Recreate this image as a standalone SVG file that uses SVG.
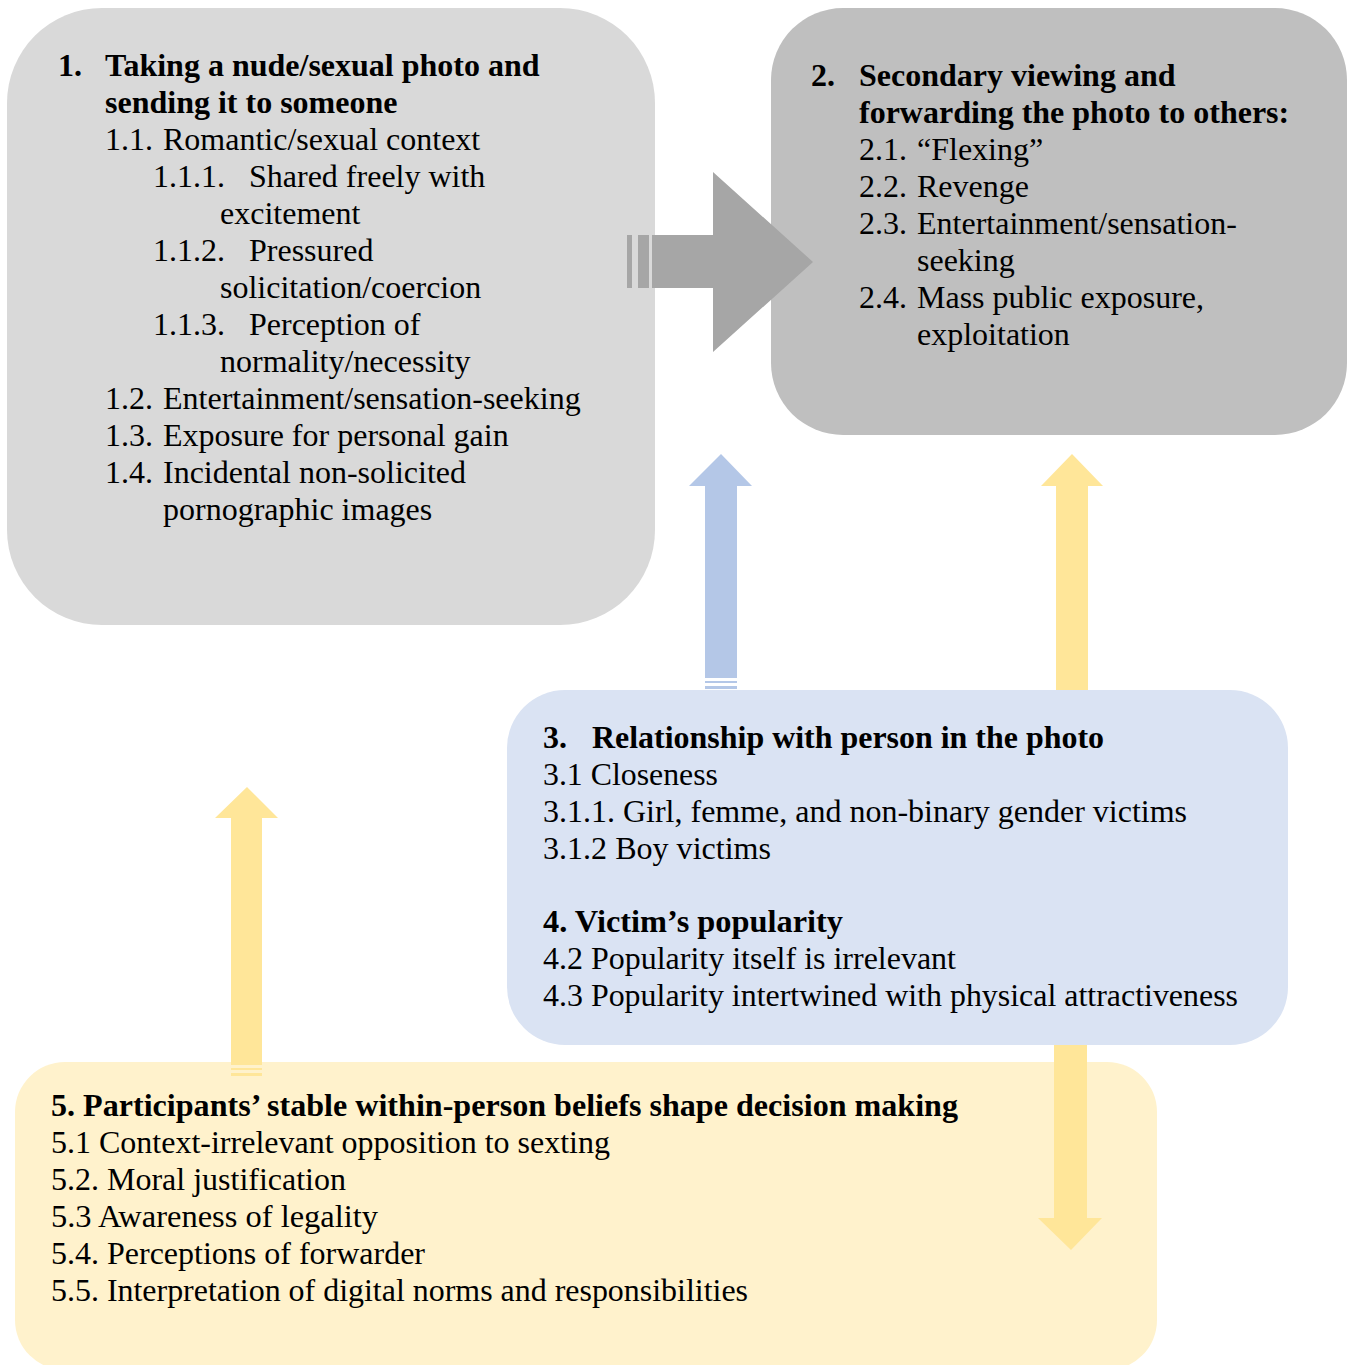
<svg xmlns="http://www.w3.org/2000/svg" width="1351" height="1365" viewBox="0 0 1351 1365">
<style>
text{font-family:"Liberation Serif","Times New Roman",serif;font-size:32px;fill:#000}
.b{font-weight:bold}
.gA{fill:#A6A6A6}
.bl{fill:#B4C7E7}
.ye{fill:#FFE699}
</style>
<rect width="1351" height="1365" fill="#fff"/>
<g id="node1">
<rect x="7" y="8" width="648" height="617" rx="95" fill="#D9D9D9"/>
<text class="b" x="58" y="76">1.</text>
<text class="b" x="105" y="76">Taking a nude/sexual photo and</text>
<text class="b" x="105" y="113">sending it to someone</text>
<text x="105" y="150">1.1.</text><text x="163" y="150">Romantic/sexual context</text>
<text x="153" y="187">1.1.1.</text><text x="249" y="187">Shared freely with</text>
<text x="220" y="224">excitement</text>
<text x="153" y="261">1.1.2.</text><text x="249" y="261">Pressured</text>
<text x="220" y="298">solicitation/coercion</text>
<text x="153" y="335">1.1.3.</text><text x="249" y="335">Perception of</text>
<text x="220" y="372">normality/necessity</text>
<text x="105" y="409">1.2.</text><text x="163" y="409">Entertainment/sensation-seeking</text>
<text x="105" y="446">1.3.</text><text x="163" y="446">Exposure for personal gain</text>
<text x="105" y="483">1.4.</text><text x="163" y="483">Incidental non-solicited</text>
<text x="163" y="520">pornographic images</text>
</g>
<g id="node2">
<rect x="771" y="8" width="576" height="427" rx="72" fill="#BFBFBF"/>
<text class="b" x="811" y="86">2.</text>
<text class="b" x="859" y="86">Secondary viewing and</text>
<text class="b" x="859" y="123">forwarding the photo to others:</text>
<text x="859" y="160">2.1.</text><text x="917" y="160">“Flexing”</text>
<text x="859" y="197">2.2.</text><text x="917" y="197">Revenge</text>
<text x="859" y="234">2.3.</text><text x="917" y="234">Entertainment/sensation-</text>
<text x="917" y="271">seeking</text>
<text x="859" y="308">2.4.</text><text x="917" y="308">Mass public exposure,</text>
<text x="917" y="345">exploitation</text>
</g>
<g id="node3">
<rect x="507" y="690" width="781" height="355" rx="58" fill="#DAE3F3"/>
<text class="b" x="543" y="748">3.</text>
<text class="b" x="592" y="748" textLength="512" lengthAdjust="spacingAndGlyphs">Relationship with person in the photo</text>
<text x="543" y="785" textLength="175" lengthAdjust="spacingAndGlyphs">3.1 Closeness</text>
<text x="543" y="822" textLength="644" lengthAdjust="spacingAndGlyphs">3.1.1. Girl, femme, and non-binary gender victims</text>
<text x="543" y="859" textLength="228" lengthAdjust="spacingAndGlyphs">3.1.2 Boy victims</text>
<text class="b" x="543" y="932" textLength="300" lengthAdjust="spacingAndGlyphs">4. Victim’s popularity</text>
<text x="543" y="969" textLength="413" lengthAdjust="spacingAndGlyphs">4.2 Popularity itself is irrelevant</text>
<text x="543" y="1006" textLength="695" lengthAdjust="spacingAndGlyphs">4.3 Popularity intertwined with physical attractiveness</text>
</g>
<g id="node5">
<rect x="15" y="1062" width="1142" height="308" rx="50" fill="#FFF2CC"/>
<text class="b" x="51" y="1116" textLength="907" lengthAdjust="spacingAndGlyphs">5. Participants’ stable within-person beliefs shape decision making</text>
<text x="51" y="1153" textLength="559" lengthAdjust="spacingAndGlyphs">5.1 Context-irrelevant opposition to sexting</text>
<text x="51" y="1190" textLength="295" lengthAdjust="spacingAndGlyphs">5.2. Moral justification</text>
<text x="51" y="1227" textLength="327" lengthAdjust="spacingAndGlyphs">5.3 Awareness of legality</text>
<text x="51" y="1264" textLength="374" lengthAdjust="spacingAndGlyphs">5.4. Perceptions of forwarder</text>
<text x="51" y="1301" textLength="697" lengthAdjust="spacingAndGlyphs">5.5. Interpretation of digital norms and responsibilities</text>
</g>
<g id="connectors">
<g id="arrow1to2" class="gA">
<rect x="627" y="235" width="5" height="53"/>
<rect x="638" y="235" width="11" height="53"/>
<polygon points="652,235 713,235 713,172 813,262 713,352 713,288 652,288"/>
</g>
<g id="arrow3to1" class="bl">
<polygon points="721,454 752,486 737,486 737,678 705,678 705,486 689,486"/>
<rect x="705" y="681" width="32" height="2"/>
<rect x="705" y="686" width="32" height="3"/>
</g>
<polygon id="arrow3to2" class="ye" points="1072,454 1103,486 1088,486 1088,690 1056,690 1056,486 1041,486"/>
<polygon id="arrow3down" class="ye" points="1054,1045 1087,1045 1087,1218 1102,1218 1071,1250 1038,1218 1054,1218"/>
<g id="arrow5to1" class="ye">
<polygon points="247,787 278,818 262,818 262,1065 231,1065 231,818 215,818"/>
<rect x="231" y="1068" width="31" height="2"/>
<rect x="231" y="1073" width="31" height="3"/>
</g>
</g>
</svg>
